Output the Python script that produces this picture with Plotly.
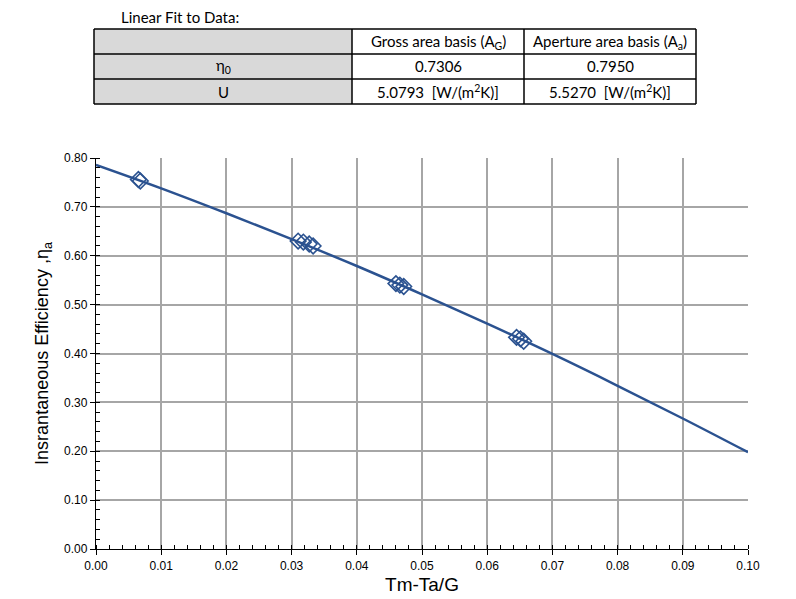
import plotly.graph_objects as go

# Measured data points
x_data = [0.0065, 0.0068, 0.0310, 0.0318, 0.0327, 0.0333, 0.0460, 0.0466, 0.0472, 0.0645, 0.0651, 0.0656]
y_data = [0.756, 0.753, 0.630, 0.628, 0.624, 0.620, 0.543, 0.540, 0.537, 0.433, 0.430, 0.425]

# Fitted curve
x_fit = [0.00, 0.01, 0.02, 0.03, 0.04, 0.05, 0.06, 0.07, 0.08, 0.09, 0.10]
y_fit = [0.786, 0.738, 0.687, 0.634, 0.579, 0.521, 0.461, 0.399, 0.334, 0.267, 0.198]

# Table contents
table_cols = ["", "Gross area basis (A<sub>G</sub>)", "Aperture area basis (A<sub>a</sub>)"]
table_rows = [
    ["η<sub>0</sub>", "0.7306", "0.7950"],
    ["U", "5.0793  [W/(m<sup>2</sup>K)]", "5.5270  [W/(m<sup>2</sup>K)]"],
]

x_ticks = [0.00, 0.01, 0.02, 0.03, 0.04, 0.05, 0.06, 0.07, 0.08, 0.09, 0.10]
y_ticks = [0.00, 0.10, 0.20, 0.30, 0.40, 0.50, 0.60, 0.70, 0.80]

W, H = 796, 599
ML, MR, MT, MB = 96, 48, 158, 50
PW, PH = W - ML - MR, H - MT - MB

def px(x):
    return (x - ML) / PW

def py(y):
    return (H - MB - y) / PH

blue = "#2B5290"

fig = go.Figure()
fig.add_trace(go.Scatter(x=x_fit, y=y_fit, mode="lines", line=dict(color=blue, width=2.5, shape="spline"),
                         showlegend=False, hoverinfo="skip"))
fig.add_trace(go.Scatter(x=x_data, y=y_data, mode="markers",
                         marker=dict(symbol="diamond-open", size=12, color=blue, line=dict(width=1.6, color=blue)),
                         showlegend=False))

shapes = []
col_x = [94, 352, 524, 696]
row_y = [29, 54, 79, 104]
shapes.append(dict(type="rect", xref="paper", yref="paper", x0=px(col_x[0]), x1=px(col_x[1]),
                   y0=py(row_y[3]), y1=py(row_y[0]), fillcolor="#D9D9D9", line=dict(width=0), layer="below"))
for cx in col_x:
    shapes.append(dict(type="line", xref="paper", yref="paper", x0=px(cx), x1=px(cx),
                       y0=py(row_y[0]), y1=py(row_y[3]), line=dict(color="black", width=1.5)))
for ry in row_y:
    shapes.append(dict(type="line", xref="paper", yref="paper", x0=px(col_x[0]), x1=px(col_x[3]),
                       y0=py(ry), y1=py(ry), line=dict(color="black", width=1.5)))

annotations = []
tfont = dict(family="Lato, Open Sans, sans-serif", size=15, color="black")
annotations.append(dict(text="Linear Fit to Data:", xref="paper", yref="paper", x=px(119), y=py(17),
                        xanchor="left", yanchor="middle", showarrow=False, font=tfont))
all_rows = [table_cols] + table_rows
for ri, row in enumerate(all_rows):
    for ci, txt in enumerate(row):
        if not txt:
            continue
        cxm = (col_x[ci] + col_x[ci + 1]) / 2
        cym = (row_y[ri] + row_y[ri + 1]) / 2
        annotations.append(dict(text=txt, xref="paper", yref="paper", x=px(cxm), y=py(cym),
                                xanchor="center", yanchor="middle", showarrow=False, font=tfont))

fig.update_layout(
    width=W, height=H,
    margin=dict(l=ML, r=MR, t=MT, b=MB),
    paper_bgcolor="white", plot_bgcolor="white",
    shapes=shapes, annotations=annotations,
    font=dict(family="Liberation Sans, Arial, sans-serif", color="black"),
    xaxis=dict(range=[0, 0.1], tickvals=x_ticks, tickformat=".2f", showgrid=True, gridcolor="#A6A6A6",
               gridwidth=1.5, showline=True, linecolor="black", linewidth=1.3, ticks="outside", ticklen=5,
               tickcolor="black", tickfont=dict(size=12), automargin=False,
               minor=dict(dtick=0.002, ticks="inside", ticklen=4, tickcolor="black", showgrid=False),
               title=dict(text="Tm-Ta/G", font=dict(size=19), standoff=6), zeroline=False),
    yaxis=dict(range=[0, 0.8], tickvals=y_ticks, tickformat=".2f", showgrid=True, gridcolor="#A6A6A6",
               gridwidth=1.5, showline=True, linecolor="black", linewidth=1.3, ticks="outside", ticklen=5,
               tickcolor="black", tickfont=dict(size=12), automargin=False,
               minor=dict(dtick=0.02, ticks="inside", ticklen=4, tickcolor="black", showgrid=False),
               title=dict(text="Insrantaneous Efficiency ,η<sub>a</sub>", font=dict(size=18), standoff=10),
               zeroline=False),
)
fig.write_html("out.html")
